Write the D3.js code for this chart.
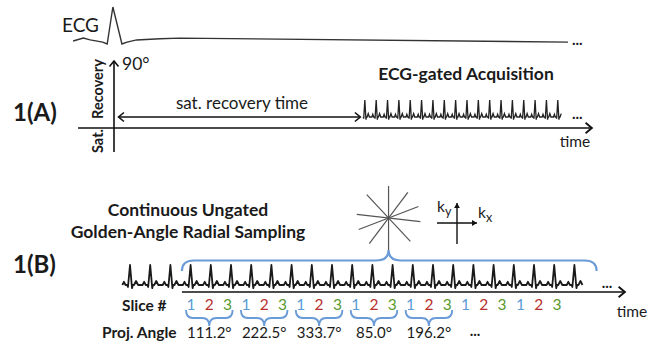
<!DOCTYPE html>
<html>
<head>
<meta charset="utf-8">
<script src="https://cdn.jsdelivr.net/npm/d3@7"></script>
<style>
  body { margin: 0; background: #fff; }
  svg { display: block; }
  text { font-family: Lato, "Open Sans", sans-serif; fill: #1a1a1a; }
</style>
</head>
<body>
<svg id="fig"></svg>
<script>
// ---- data (time in heart-beat units, amplitude relative to R peak) ----
// single ECG trace over panel A, t = 0 at the saturation pulse
const ecgTraceT   = [-3.6, -2.7, -2.1, -1.0, -0.6, -0.1, 0.7, 1.15, 2.0, 4.05, 5.8, 40];
const ecgTraceAmp = [0.08, 0.16, 0.11, 0.05, 0, 1, 0, 0.05, 0.11, 0.14, 0.16, 0.05];

// one heart beat template: offset (fraction of RR) and amplitude
const beatDt  = [-0.5, -0.38, -0.3, -0.22, -0.14, -0.1, 0, 0.1, 0.14, 0.2, 0.3, 0.4, 0.5];
const beatAmp = [0, 0, 0.16, 0, 0, -0.1, 1, -0.16, 0, 0, 0.2, 0, 0];

// panel A: ECG-gated beats after saturation recovery
const satRecovery = 21.7;
const gatedBeats = [22.1, 23.1, 24.1, 25.1, 26.1, 27.1, 28.1, 29.1, 30.1,
                    31.1, 32.1, 33.1, 34.1, 35.1, 36.1, 37.1, 38.1, 39.1];

// panel B: continuous beats
const contBeats = [0, 1, 2, 3, 4, 5, 6, 7, 8, 9, 10, 11, 12, 13, 14, 15, 16, 17, 18, 19, 20, 21, 22];
const sliceNums = [1, 2, 3, 1, 2, 3, 1, 2, 3, 1, 2, 3, 1, 2, 3, 1, 2, 3, 1, 2, 3];
const projAngles = ["111.2°", "222.5°", "333.7°", "85.0°", "196.2°"];
const spokeAngles = [90, 6.6, 47, -53, -21];   // degrees, radial spokes

const sliceColor = { 1: "#5b9bd5", 2: "#b8312f", 3: "#5a9a2e" };
const braceBlue = "#6b9bd6";

const W = 659, H = 342;
const svg = d3.select("#fig").attr("width", W).attr("height", H);
svg.append("rect").attr("width", W).attr("height", H).attr("fill", "#fff");

// arrow markers
const defs = svg.append("defs");
function chevron(id, size, sw) {
  defs.append("marker").attr("id", id)
    .attr("markerUnits", "userSpaceOnUse")
    .attr("viewBox", `-${size} -${size} ${size * 2} ${size * 2}`)
    .attr("markerWidth", size * 2).attr("markerHeight", size * 2)
    .attr("orient", "auto-start-reverse")
    .append("path")
    .attr("d", `M${-size * 0.9},${-size * 0.75} L0,0 L${-size * 0.9},${size * 0.75}`)
    .attr("fill", "none").attr("stroke", "#111").attr("stroke-width", sw)
    .attr("stroke-linejoin", "miter");
}
chevron("arrA", 7, 1.9);
chevron("arrS", 6, 1.6);
chevron("arrK", 5, 0);
defs.select("#arrK path").attr("d", "M-6,-3.5 L0,0 L-6,3.5 Z").attr("fill", "#111");

function addText(x, y, str, size, opts = {}) {
  const t = svg.append("text").attr("x", x).attr("y", y)
    .attr("font-size", size).text(str)
    .attr("text-anchor", opts.anchor || "start")
    .attr("font-weight", opts.bold ? 700 : 400);
  if (opts.fill) t.style("fill", opts.fill);
  if (opts.rotate) t.attr("transform", `rotate(${opts.rotate},${x},${y})`);
  return t;
}

function beatPoints(beats, span0, span1) {
  const pts = [];
  beats.forEach((b, i) => {
    beatDt.forEach((d, j) => {
      if (i === 0 && d < span0) return;
      if (i === beats.length - 1 && d > span1) return;
      pts.push([b + d, beatAmp[j]]);
    });
  });
  return pts;
}

// ================= Panel A =================
const xA = d3.scaleLinear().domain([0, 1]).range([114, 125.35]);
const yTrace = d3.scaleLinear().domain([0, 1]).range([44, 7]);
const yGated = d3.scaleLinear().domain([0, 1]).range([117, 100]);

addText(62, 32, "ECG", 19);
svg.append("path")
  .attr("d", d3.line().x(d => xA(d[0])).y(d => yTrace(d[1]))(ecgTraceT.map((t, i) => [t, ecgTraceAmp[i]])))
  .attr("fill", "none").attr("stroke", "#333").attr("stroke-width", 1.4);
addText(xA(40) + 4, 45, "...", 15, { bold: true });

// saturation axis (vertical) and time axis
svg.append("line").attr("x1", xA(0)).attr("x2", xA(0)).attr("y1", 152).attr("y2", 61)
  .attr("stroke", "#111").attr("stroke-width", 1.6).attr("marker-end", "url(#arrS)");
svg.append("line").attr("x1", xA(-3.17)).attr("x2", xA(42.1)).attr("y1", 128).attr("y2", 128)
  .attr("stroke", "#111").attr("stroke-width", 1.7).attr("marker-end", "url(#arrA)");
addText(122, 70, "90°", 17.5);
addText(103, 89, "Recovery", 14.5, { bold: true, anchor: "middle", rotate: -90 });
addText(103, 141, "Sat.", 14.5, { bold: true, anchor: "middle", rotate: -90 });
addText(13, 121, "1(A)", 24, { bold: true });

// saturation recovery double arrow
svg.append("line").attr("x1", xA(0.4)).attr("x2", xA(satRecovery)).attr("y1", 117).attr("y2", 117)
  .attr("stroke", "#111").attr("stroke-width", 1.5)
  .attr("marker-start", "url(#arrS)").attr("marker-end", "url(#arrS)");
addText(242, 109, "sat. recovery time", 17, { anchor: "middle" });

// gated acquisition
addText(466, 80, "ECG-gated Acquisition", 17.5, { bold: true, anchor: "middle" });
svg.append("path")
  .attr("d", d3.line().x(d => xA(d[0])).y(d => yGated(d[1]))(beatPoints(gatedBeats, -0.2, 0.34)))
  .attr("fill", "none").attr("stroke", "#222").attr("stroke-width", 1.3);
addText(xA(40) + 4, 119, "...", 15, { bold: true });
addText(575, 147, "time", 15.5, { anchor: "middle" });

// ================= Panel B =================
const xB = d3.scaleLinear().domain([0, 22]).range([130, 574.4]);
const yB = d3.scaleLinear().domain([0, 1]).range([285, 265]);

addText(13, 273, "1(B)", 24, { bold: true });
addText(188, 216, "Continuous Ungated", 17.5, { bold: true, anchor: "middle" });
addText(188, 238, "Golden-Angle Radial Sampling", 17.5, { bold: true, anchor: "middle" });

// beats
svg.append("path")
  .attr("d", d3.line().x(d => xB(d[0])).y(d => yB(d[1]))(beatPoints(contBeats, -0.45, 0.45)))
  .attr("fill", "none").attr("stroke", "#1a1a1a").attr("stroke-width", 1.8)
  .attr("stroke-linejoin", "round");
addText(xB(23.35), 288, "...", 15, { bold: true });

// time axis
svg.append("line").attr("x1", xB(2.57)).attr("x2", xB(24.5)).attr("y1", 292).attr("y2", 292)
  .attr("stroke", "#111").attr("stroke-width", 1.7).attr("marker-end", "url(#arrA)");
addText(632, 317, "time", 15.5, { anchor: "middle" });

// braces
function hBrace(x1, x2, xm, yEnd, yTip, w) {
  const ym = (yEnd + yTip) / 2;
  return `M${x1},${yEnd} Q${x1},${ym} ${x1 + w},${ym} L${xm - w},${ym} Q${xm},${ym} ${xm},${yTip}` +
         ` Q${xm},${ym} ${xm + w},${ym} L${x2 - w},${ym} Q${x2},${ym} ${x2},${yEnd}`;
}
const starT = 12.8;
svg.append("path").attr("d", hBrace(xB(2.57), xB(23.1), xB(starT), 271, 250, 12))
  .attr("fill", "none").attr("stroke", braceBlue).attr("stroke-width", 2.2);

// radial spokes
const cx = xB(starT), cy = 218, rS = 32;
spokeAngles.forEach(a => {
  const r = a * Math.PI / 180;
  svg.append("line")
    .attr("x1", cx - rS * Math.cos(r)).attr("y1", cy - rS * Math.sin(r))
    .attr("x2", cx + rS * Math.cos(r)).attr("y2", cy + rS * Math.sin(r))
    .attr("stroke", "#555").attr("stroke-width", 1.2);
});

// k-space axes
svg.append("line").attr("x1", 457).attr("x2", 457).attr("y1", 244).attr("y2", 203)
  .attr("stroke", "#111").attr("stroke-width", 1.4).attr("marker-end", "url(#arrK)");
svg.append("line").attr("x1", 437).attr("x2", 477).attr("y1", 223).attr("y2", 223)
  .attr("stroke", "#111").attr("stroke-width", 1.4).attr("marker-end", "url(#arrK)");
const ky = addText(437, 212, "k", 15.5);
ky.append("tspan").attr("font-size", 12.5).attr("dy", 4).text("y");
const kx = addText(478, 218, "k", 15.5);
kx.append("tspan").attr("font-size", 12.5).attr("dy", 4).text("x");

// slice numbers
const xS = d3.scaleLinear().domain([0, sliceNums.length - 1]).range([191, 557]);
addText(122, 311, "Slice #", 15.5, { bold: true });
svg.selectAll(".slice").data(sliceNums).enter().append("text")
  .attr("class", "slice")
  .attr("x", (d, i) => xS(i)).attr("y", 310)
  .attr("text-anchor", "middle").attr("font-size", 15.5)
  .style("fill", d => sliceColor[d]).text(d => d);

// projection angle braces + labels
addText(102, 338, "Proj. Angle", 15.5, { bold: true });
projAngles.forEach((a, g) => {
  const x1 = xS(g * 3) - 5, x2 = xS(g * 3 + 2) + 5, xm = (x1 + x2) / 2;
  svg.append("path").attr("d", hBrace(x1, x2, xm, 310, 326, 7))
    .attr("fill", "none").attr("stroke", braceBlue).attr("stroke-width", 1.9);
  addText(xm, 338, a, 15, { anchor: "middle" });
});
addText(475, 336, "...", 15, { bold: true, anchor: "middle" });
</script>
</body>
</html>
